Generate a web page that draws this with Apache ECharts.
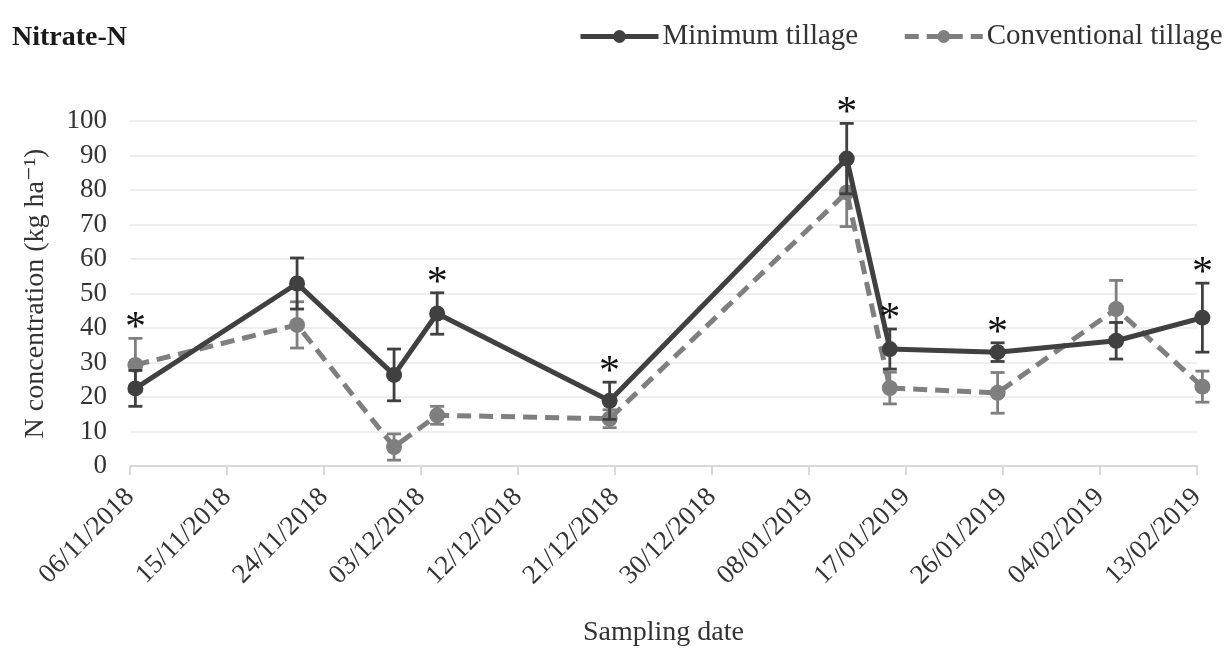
<!DOCTYPE html>
<html>
<head>
<meta charset="utf-8">
<script src="https://cdn.jsdelivr.net/npm/echarts@6/dist/echarts.min.js"></script>
<style>html,body{margin:0;padding:0;background:#fff;}#c{width:1226px;height:652px;}</style>
</head>
<body>
<div id="c"></div>
<script>
// ---- data ----
const startDate = '2018-11-06';
const sampleDates = ['2018-11-06','2018-11-21','2018-11-30','2018-12-04','2018-12-20','2019-01-11','2019-01-15','2019-01-25','2019-02-05','2019-02-13'];
const minMean = [22.5, 52.9, 26.4, 44.2, 18.9, 89.1, 33.9, 33.0, 36.3, 43.0];
const minErr  = [5.2, 7.4, 7.5, 6.0, 5.4, 10.2, 5.8, 2.7, 5.3, 10.0];
const convMean = [29.3, 40.9, 5.5, 14.7, 13.7, 79.3, 22.6, 21.2, 45.5, 23.0];
const convErr  = [7.7, 6.7, 3.8, 2.6, 2.6, 9.9, 4.6, 5.9, 8.3, 4.5];
const significant = [1, 0, 0, 1, 1, 1, 1, 1, 0, 1];
const seriesNames = ['Minimum tillage', 'Conventional tillage'];
const tickStepDays = 9;
const axisDays = 99;

// ---- helpers ----
const DAY = 86400000;
const t0 = Date.parse(startDate + 'T00:00:00Z');
// Excel date axis places each day's point in the middle of the day
const xDays = sampleDates.map(d => (Date.parse(d + 'T00:00:00Z') - t0) / DAY + 0.5);
function fmt(v) {
  const d = new Date(t0 + Math.round(v) * DAY);
  const p = n => String(n).padStart(2, '0');
  return p(d.getUTCDate()) + '/' + p(d.getUTCMonth() + 1) + '/' + d.getUTCFullYear();
}
const SERIF = "'Liberation Serif','DejaVu Serif','Times New Roman',serif";
const cMin = '#404040', cConv = '#7f7f7f';

const minData = xDays.map((x, i) => [x, minMean[i]]);
const convData = xDays.map((x, i) => [x, convMean[i]]);
const minErrData = xDays.map((x, i) => [x, minMean[i] - minErr[i], minMean[i] + minErr[i]]);
const convErrData = xDays.map((x, i) => [x, convMean[i] - convErr[i], convMean[i] + convErr[i]]);
const starData = xDays.map((x, i) => significant[i] ? [x, Math.max(minMean[i] + minErr[i], convMean[i] + convErr[i])] : null).filter(Boolean);

function errRender(color) {
  return function (params, api) {
    const x = api.value(0);
    const lo = api.coord([x, api.value(1)]);
    const hi = api.coord([x, api.value(2)]);
    const w = 7;
    const st = { stroke: color, lineWidth: 2.8 };
    return {
      type: 'group',
      children: [
        { type: 'line', shape: { x1: lo[0], y1: lo[1], x2: hi[0], y2: hi[1] }, style: st },
        { type: 'line', shape: { x1: lo[0] - w, y1: lo[1], x2: lo[0] + w, y2: lo[1] }, style: st },
        { type: 'line', shape: { x1: hi[0] - w, y1: hi[1], x2: hi[0] + w, y2: hi[1] }, style: st }
      ]
    };
  };
}

const chart = echarts.init(document.getElementById('c'), null, { renderer: 'canvas' });
chart.setOption({
  animation: false,
  backgroundColor: '#fff',
  title: {
    text: 'Nitrate-N', left: 7, top: 19,
    textStyle: { fontFamily: SERIF, fontWeight: 'bold', fontSize: 28, color: '#1a1a1a' }
  },
  legend: {
    left: 578, top: 22, width: 648, padding: 0, itemWidth: 78, itemHeight: 16, itemGap: 44,
    data: seriesNames,
    lineStyle: { width: 5 },
    textStyle: { fontFamily: SERIF, fontSize: 29, color: '#333', padding: [0, 0, 0, -1] }
  },
  grid: { left: 130, right: 29, top: 121, bottom: 184 },
  xAxis: {
    type: 'value', min: 0, max: axisDays, interval: tickStepDays,
    name: 'Sampling date', nameLocation: 'middle', nameGap: 153,
    nameTextStyle: { fontFamily: SERIF, fontSize: 28, color: '#333' },
    axisLine: { show: true, lineStyle: { color: '#d9d9d9', width: 2 } },
    axisTick: { show: true, length: 9, lineStyle: { color: '#d9d9d9', width: 2 } },
    splitLine: { show: false },
    axisLabel: { rotate: 45, margin: 27, formatter: fmt, fontFamily: SERIF, fontSize: 27, color: '#333' }
  },
  yAxis: {
    type: 'value', min: 0, max: 100, interval: 10,
    name: 'N concentration (kg ha\u207B\u00B9)', nameLocation: 'middle', nameGap: 80, nameRotate: 90,
    nameTextStyle: { fontFamily: SERIF, fontSize: 28, color: '#333' },
    axisLine: { show: false }, axisTick: { show: false },
    splitLine: { lineStyle: { color: '#eeeeee', width: 2 } },
    axisLabel: { margin: 23, fontFamily: SERIF, fontSize: 27, color: '#333' }
  },
  series: [
    {
      name: seriesNames[1], type: 'line', data: convData, clip: false, z: 2,
      symbol: 'circle', symbolSize: 16,
      itemStyle: { color: cConv },
      lineStyle: { color: cConv, width: 5, type: [14, 8] }
    },
    {
      type: 'custom', data: convErrData, renderItem: errRender(cConv), clip: false, z: 3, silent: true
    },
    {
      name: seriesNames[0], type: 'line', data: minData, clip: false, z: 4,
      symbol: 'circle', symbolSize: 16,
      itemStyle: { color: cMin },
      lineStyle: { color: cMin, width: 5 }
    },
    {
      type: 'custom', data: minErrData, renderItem: errRender(cMin), clip: false, z: 5, silent: true
    },
    {
      type: 'custom', data: starData, clip: false, z: 6, silent: true,
      renderItem: function (params, api) {
        const p = api.coord([api.value(0), api.value(1)]);
        return {
          type: 'text',
          style: {
            text: '*', x: p[0], y: p[1] - 9, align: 'center', verticalAlign: 'middle',
            font: '42px ' + SERIF, fill: '#111'
          }
        };
      }
    }
  ]
});
</script>
</body>
</html>
